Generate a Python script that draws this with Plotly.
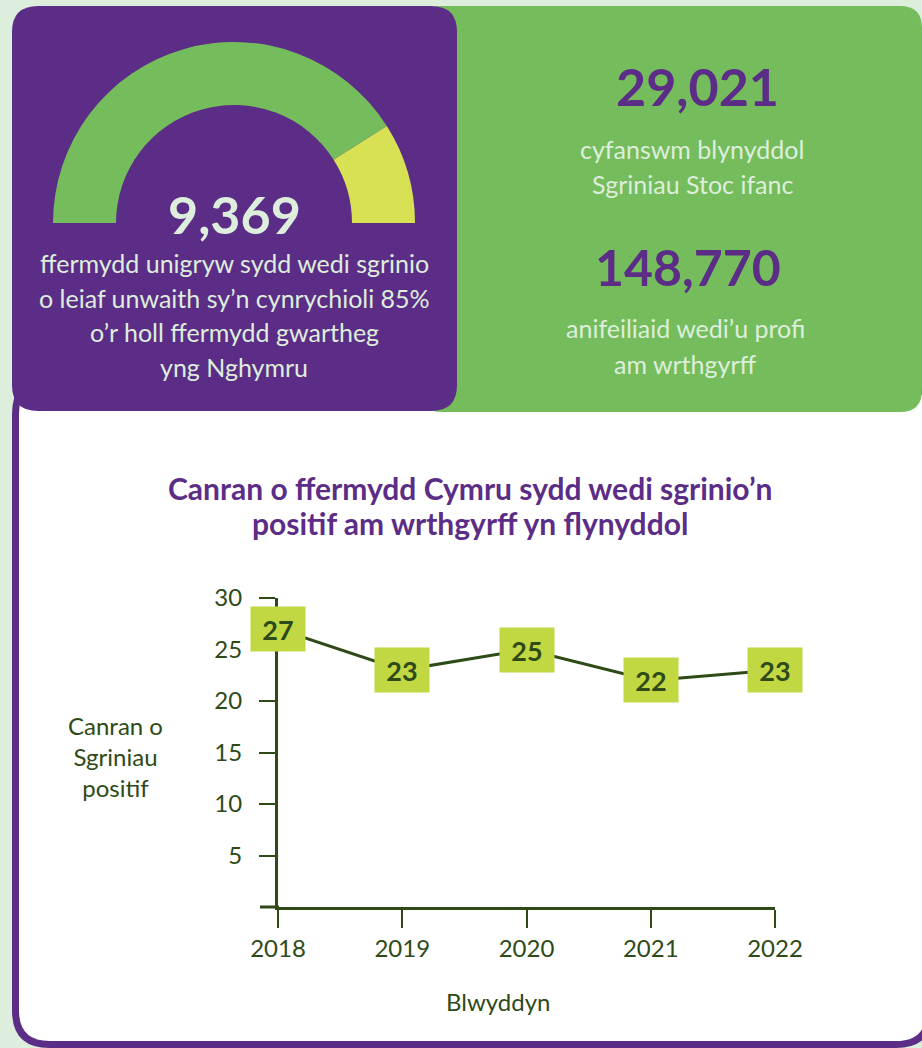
import plotly.graph_objects as go

W, H = 922, 1048

# data
years = [2018, 2019, 2020, 2021, 2022]
positive_pct = [27, 23, 25, 22, 23]
y_ticks = [5, 10, 15, 20, 25, 30]
gauge_share = [82, 18]          # screened share of the half-dial
farms_screened = "9,369"
annual_screens = "29,021"
animals_tested = "148,770"

PURPLE = "#5c2d87"
GREEN = "#75bd5c"
PALE = "#deeedc"
YELLOW = "#d8e053"
BOX = "#c2d843"
DARK = "#2e4a17"
FONT = "Lato"


def px(x):
    return x / W


def py(y):
    return 1 - y / H


def rounded_rect(x0, y0, x1, y1, r):
    # pixel box -> svg path in paper coords
    rx, ry = r / W, r / H
    a, b, c, d = px(x0), py(y1), px(x1), py(y0)
    return (f"M{a + rx},{b} L{c - rx},{b} Q{c},{b} {c},{b + ry} "
            f"L{c},{d - ry} Q{c},{d} {c - rx},{d} L{a + rx},{d} "
            f"Q{a},{d} {a},{d - ry} L{a},{b + ry} Q{a},{b} {a + rx},{b} Z")


fig = go.Figure()

# half dial on the purple card
fig.add_trace(go.Pie(
    values=gauge_share + [sum(gauge_share)],
    marker=dict(colors=[GREEN, YELLOW, "rgba(0,0,0,0)"], line=dict(width=0)),
    hole=118 / 181, sort=False, direction="clockwise", rotation=270,
    textinfo="none", hoverinfo="skip", showlegend=False,
    domain=dict(x=[px(234 - 181), px(234 + 181)], y=[py(223 + 181), py(223 - 181)]),
))

# line chart
fig.add_trace(go.Scatter(
    x=years, y=positive_pct, mode="lines",
    line=dict(color=DARK, width=3), showlegend=False, hoverinfo="skip",
))

shapes = [
    dict(type="path", xref="paper", yref="paper",
         path=rounded_rect(15.5, 380, 930, 1044.5, 34),
         line=dict(color=PURPLE, width=7), fillcolor="white", layer="below"),
    dict(type="path", xref="paper", yref="paper",
         path=rounded_rect(420, 6, 922, 412, 22),
         line=dict(width=0), fillcolor=GREEN, layer="below"),
    dict(type="path", xref="paper", yref="paper",
         path=rounded_rect(12, 6, 457, 411, 26),
         line=dict(width=0), fillcolor=PURPLE, layer="below"),
    # x axis runs a little past the y axis
    dict(type="line", xref="paper", yref="paper", x0=px(260), x1=px(279),
         y0=py(907), y1=py(907), line=dict(color=DARK, width=3)),
]

annotations = []


def note(text, x, y, size, color, bold=False, **kw):
    annotations.append(dict(
        text=f"<b>{text}</b>" if bold else text, x=px(x), y=py(y),
        xref="paper", yref="paper", showarrow=False, xanchor="center", yanchor="middle",
        font=dict(family=FONT, size=size, color=color), **kw))


note(farms_screened, 234, 214, 52, PALE, bold=True)
for i, line in enumerate(["ffermydd unigryw sydd wedi sgrinio",
                          "o leiaf unwaith sy’n cynrychioli 85%",
                          "o’r holl ffermydd gwartheg",
                          "yng Nghymru"]):
    note(line, 234, 263 + i * 34.5, 25, PALE)

note(annual_screens, 697, 86, 52, PURPLE, bold=True)
note("cyfanswm blynyddol", 692, 149, 25, PALE)
note("Sgriniau Stoc ifanc", 692, 184, 25, PALE)
note(animals_tested, 688, 267, 50, PURPLE, bold=True)
note("anifeiliaid wedi’u profi", 685, 328, 25, PALE)
note("am wrthgyrff", 685, 364, 25, PALE)

note("Canran o ffermydd Cymru sydd wedi sgrinio’n", 470, 488, 30, PURPLE, bold=True)
note("positif am wrthgyrff yn flynyddol", 470, 523, 30, PURPLE, bold=True)

note("Canran o<br>Sgriniau<br>positif", 115, 756, 24, DARK)
note("Blwyddyn", 498, 1001, 24, DARK)

# value tags on the line
for yr, v in zip(years, positive_pct):
    annotations.append(dict(
        text=f"<b>{v}</b>", x=yr, y=v, xref="x", yref="y", showarrow=False,
        width=52, height=42, bgcolor=BOX, align="center", valign="middle",
        font=dict(family=FONT, size=27, color=DARK)))

fig.update_layout(
    width=W, height=H, margin=dict(l=0, r=0, t=0, b=0, autoexpand=False),
    paper_bgcolor=PALE, plot_bgcolor="rgba(0,0,0,0)",
    shapes=shapes, annotations=annotations,
    font=dict(family=FONT, color=DARK),
    xaxis=dict(domain=[px(278), px(775)], range=[2018, 2022],
               tickvals=years, ticks="outside", ticklen=18, tickwidth=2,
               tickcolor=DARK, showline=True, linecolor=DARK, linewidth=3,
               showgrid=False, zeroline=False,
               tickfont=dict(family=FONT, size=24, color=DARK)),
    yaxis=dict(domain=[py(907), py(598)], range=[0, 30],
               tickvals=y_ticks, ticks="outside", ticklen=16, tickwidth=2,
               tickcolor=DARK, showline=True, linecolor=DARK, linewidth=3,
               showgrid=False, zeroline=False, ticklabelstandoff=12,
               tickfont=dict(family=FONT, size=24, color=DARK)),
)

fig.write_html("out.html", config={"displayModeBar": False},
               post_script="document.body.style.margin='0';")
